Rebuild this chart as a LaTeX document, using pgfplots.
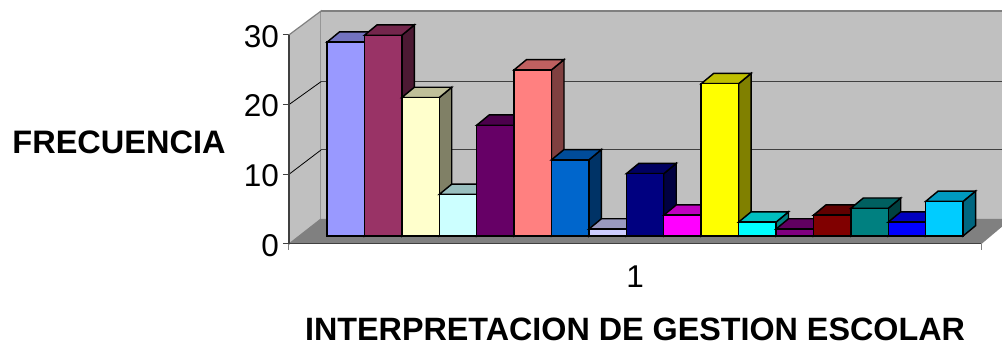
\documentclass[border=0pt]{standalone}
\usepackage{fontspec}
\setmainfont{Liberation Sans}
\usepackage{pgfplots}
\pgfplotsset{compat=1.18}

% Excel-style palette for the seventeen response categories
\definecolor{c1}{HTML}{9999FF}\definecolor{c2}{HTML}{993366}\definecolor{c3}{HTML}{FFFFCC}
\definecolor{c4}{HTML}{CCFFFF}\definecolor{c5}{HTML}{660066}\definecolor{c6}{HTML}{FF8080}
\definecolor{c7}{HTML}{0066CC}\definecolor{c8}{HTML}{CCCCFF}\definecolor{c9}{HTML}{000080}
\definecolor{c10}{HTML}{FF00FF}\definecolor{c11}{HTML}{FFFF00}\definecolor{c12}{HTML}{00FFFF}
\definecolor{c13}{HTML}{800080}\definecolor{c14}{HTML}{800000}\definecolor{c15}{HTML}{008080}
\definecolor{c16}{HTML}{0000FF}\definecolor{c17}{HTML}{00CCFF}
\definecolor{wall}{HTML}{C0C0C0}
\definecolor{floorgray}{HTML}{808080}
\definecolor{gridgray}{HTML}{404040}

% Oblique offsets: bar base above the front edge, bar depth, value scale at bar depth
\def\lift{1.15}
\def\bdx{0.334}
\def\bdy{1.48}
\def\bscale{0.993}

% One oblique bar: index, value, colour (side and top first, front last)
\newcommand\obliquebar[3]{%
  \pgfmathsetmacro\xa{#1}%
  \pgfmathsetmacro\xb{#1+1}%
  \pgfmathsetmacro\xc{#1+\bdx}%
  \pgfmathsetmacro\xd{#1+1+\bdx}%
  \pgfmathsetmacro\ya{\lift}%
  \pgfmathsetmacro\yb{#2*\bscale+\lift}%
  \pgfmathsetmacro\yc{\lift+\bdy}%
  \pgfmathsetmacro\yd{#2*\bscale+\lift+\bdy}%
  \addplot[draw=black,line width=1.45pt,fill=#3!50!black] coordinates {(\xb,\ya) (\xd,\yc) (\xd,\yd) (\xb,\yb)} -- cycle;
  \addplot[draw=black,line width=1.45pt,fill=#3!75!black] coordinates {(\xa,\yb) (\xb,\yb) (\xd,\yd) (\xc,\yd)} -- cycle;
  \addplot[draw=black,line width=1.45pt,fill=#3] coordinates {(\xa,\ya) (\xb,\ya) (\xb,\yb) (\xa,\yb)} -- cycle;
}

\begin{document}
\begin{tikzpicture}[x=1pt,y=1pt]
\path[use as bounding box] (0,0) rectangle (1002,345);
\begin{axis}[
  at={(289pt,101pt)},anchor=south west,
  scale only axis,width=713pt,height=233pt,
  xmin=-1.016,xmax=18.04,ymin=0,ymax=33.43,
  clip=false,
  axis lines*=left,
  axis line style={draw=none,-},
  /pgf/number format/assume math mode=true,
  ytick={0,10,20,30},
  xtick={8.233},xticklabels={1},
  extra x ticks={-1.016,17.49},extra x tick labels={,},
  extra x tick style={xtick style={draw=gray,line width=1pt}},
  major tick length=6pt,
  xtick style={draw=none},
  ytick style={draw=gridgray,line width=1pt},
  y tick label style={font=\fontsize{31.5}{36}\selectfont,xshift=-4pt,yshift=-1.5pt,inner sep=0pt},
  x tick label style={font=\fontsize{31.5}{36}\selectfont,yshift=-12.5pt},
  ylabel={\textbf{FRECUENCIA}},
  xlabel={\textbf{INTERPRETACION DE GESTION ESCOLAR}},
  ylabel style={rotate=-90,at={(rel axis cs:-0.2384,0.4378)},anchor=center,font=\fontsize{32.5}{36}\selectfont},
  xlabel style={at={(rel axis cs:0.4853,-0.367)},anchor=center,inner sep=0pt,font=\fontsize{32.3}{32.3}\selectfont},
  tick align=outside,
]
% Walls and floor
\addplot[draw=floorgray,line width=1.2pt,fill=wall] coordinates {(-1.016,0) (-0.16,3.59) (-0.16,33.43) (-1.016,30)} -- cycle;
\addplot[draw=none,fill=wall] coordinates {(-0.16,3.59) (18.04,3.59) (18.04,33.43) (-0.16,33.43)} -- cycle;
\addplot[draw=floorgray,line width=1.2pt] coordinates {(-0.16,33.43) (18.04,33.43)};
\addplot[draw=none,fill=floorgray] coordinates {(-1.016,0) (-0.16,3.59) (18.04,3.59) (18.04,2.48) (17.49,0)} -- cycle;
% Grid on the back wall and its continuation on the side wall
\addplot[draw=gridgray,line width=1pt] coordinates {(-0.16,13.49) (18.04,13.49)};
\addplot[draw=gridgray,line width=1pt] coordinates {(-0.16,23.29) (18.04,23.29)};
\addplot[draw=black,line width=0.8pt] coordinates {(-1.016,10) (-0.16,13.49)};
\addplot[draw=black,line width=0.8pt] coordinates {(-1.016,20) (-0.16,23.29)};
% Front edge and value axis
\addplot[draw=gridgray,line width=1pt] coordinates {(-1.016,0) (17.49,0)};
\addplot[draw=gridgray,line width=1.1pt] coordinates {(-1.016,0) (-1.016,30)};
% Frequencies, left to right
\obliquebar{0}{28}{c1}
\obliquebar{1}{29}{c2}
\obliquebar{2}{20}{c3}
\obliquebar{3}{6}{c4}
\obliquebar{4}{16}{c5}
\obliquebar{5}{24}{c6}
\obliquebar{6}{11}{c7}
\obliquebar{7}{1}{c8}
\obliquebar{8}{9}{c9}
\obliquebar{9}{3}{c10}
\obliquebar{10}{22}{c11}
\obliquebar{11}{2}{c12}
\obliquebar{12}{1}{c13}
\obliquebar{13}{3}{c14}
\obliquebar{14}{4}{c15}
\obliquebar{15}{2}{c16}
\obliquebar{16}{5}{c17}
\end{axis}
\end{tikzpicture}
\end{document}
